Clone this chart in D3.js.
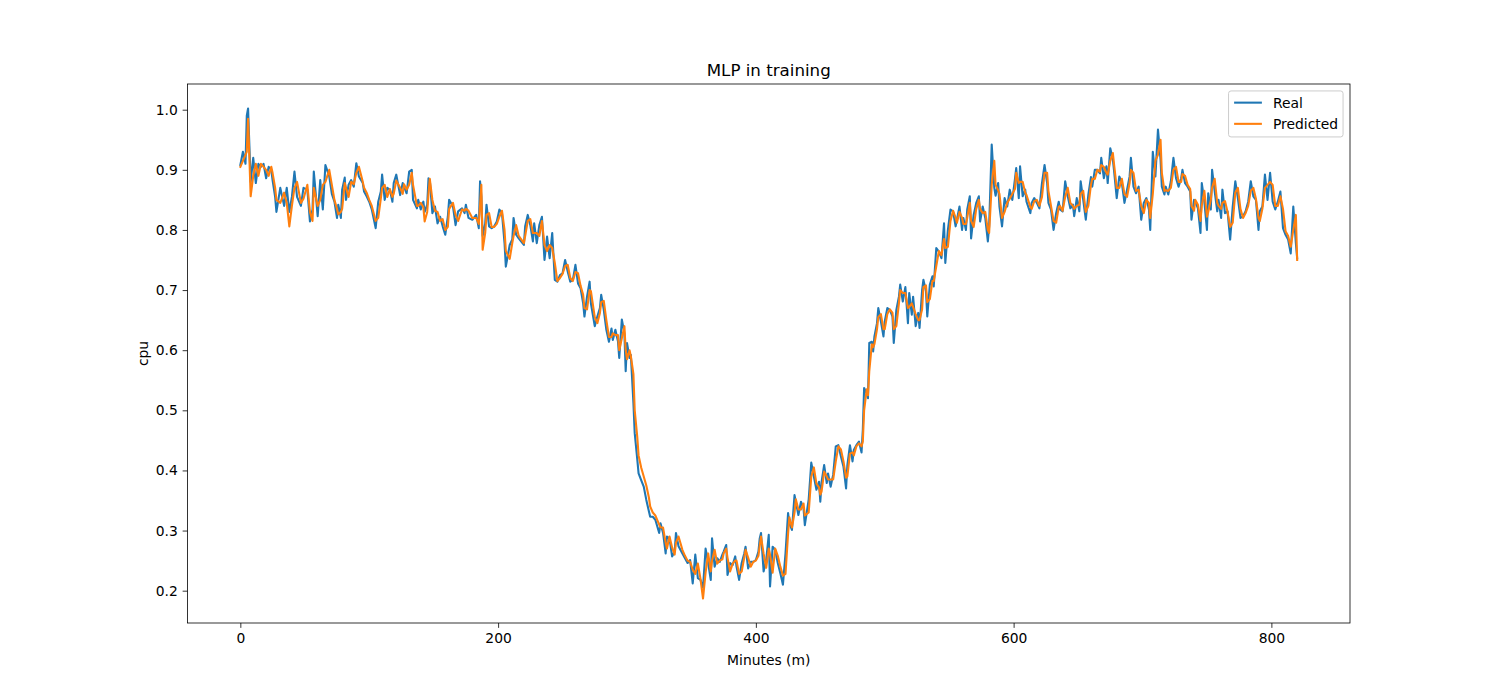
<!DOCTYPE html>
<html>
<head>
<meta charset="utf-8">
<script src="https://cdn.jsdelivr.net/npm/d3@7"></script>
<style>
  body { margin: 0; background: #fff; }
  svg { font-family: "DejaVu Sans", sans-serif; }
</style>
</head>
<body>
<div id="chart"></div>
<script>
// chart text
var chartTitle = "MLP in training";
var xLabel = "Minutes (m)";
var yLabel = "cpu";
var seriesNames = ["Real", "Predicted"];
var xTicks = [0, 200, 400, 600, 800];
var yTicks = [0.2, 0.3, 0.4, 0.5, 0.6, 0.7, 0.8, 0.9, 1.0];

// [minute, cpu]
var realPoints = [
  [0,0.908],[2,0.93],[4,0.91],[5,0.99],[6,1.002],[8,0.88],[10,0.92],[12,0.878],[14,0.91],[16,0.905],
  [18,0.91],[20,0.886],[22,0.905],[24,0.9],[25,0.883],[27,0.855],[28,0.83],[31,0.87],[34,0.84],[36,0.87],
  [38,0.83],[40,0.855],[42,0.897],[44,0.855],[47,0.84],[49,0.87],[52,0.867],[54,0.814],[56,0.834],[57,0.897],
  [60,0.823],[62,0.883],[64,0.834],[66,0.908],[69,0.889],[71,0.86],[73,0.847],[75,0.82],[76,0.842],[78,0.82],
  [79,0.867],[81,0.887],[82,0.85],[84,0.875],[86,0.883],[88,0.872],[90,0.911],[92,0.889],[95,0.878],[96,0.864],
  [98,0.856],[100,0.847],[102,0.834],[105,0.803],[107,0.847],[109,0.864],[110,0.892],[112,0.85],[114,0.87],[116,0.867],
  [118,0.847],[119,0.878],[121,0.892],[124,0.858],[126,0.878],[127,0.872],[129,0.861],[131,0.897],[133,0.9],[134,0.85],
  [137,0.836],[138,0.85],[140,0.834],[142,0.847],[143,0.83],[145,0.842],[146,0.886],[147,0.883],[149,0.828],[151,0.839],
  [153,0.811],[155,0.822],[157,0.806],[159,0.792],[161,0.822],[162,0.85],[165,0.839],[167,0.808],[169,0.831],[172,0.836],
  [174,0.828],[175,0.842],[177,0.82],[180,0.817],[183,0.825],[185,0.803],[186,0.881],[187,0.856],[188,0.79],[190,0.811],
  [191,0.842],[193,0.806],[195,0.803],[197,0.806],[199,0.814],[201,0.834],[203,0.828],[205,0.778],[206,0.739],[209,0.775],
  [211,0.784],[212,0.82],[214,0.792],[216,0.786],[220,0.775],[221,0.806],[223,0.825],[225,0.808],[227,0.781],[228,0.811],
  [230,0.778],[232,0.808],[234,0.822],[236,0.75],[238,0.789],[240,0.753],[242,0.795],[244,0.717],[246,0.714],[248,0.725],
  [250,0.728],[252,0.75],[254,0.731],[256,0.714],[258,0.717],[260,0.742],[262,0.711],[264,0.703],[266,0.678],[267,0.656],
  [269,0.689],[271,0.714],[272,0.678],[275,0.64],[277,0.656],[279,0.67],[280,0.692],[282,0.667],[284,0.634],[286,0.614],
  [288,0.636],[289,0.617],[291,0.634],[293,0.615],[294,0.587],[296,0.651],[298,0.628],[299,0.565],[300,0.612],[302,0.587],
  [303,0.592],[305,0.512],[306,0.462],[308,0.418],[309,0.395],[311,0.384],[313,0.373],[315,0.351],[317,0.332],[318,0.323],
  [320,0.323],[322,0.318],[325,0.296],[326,0.312],[328,0.296],[330,0.262],[331,0.29],[333,0.287],[335,0.257],[337,0.265],
  [338,0.296],[340,0.274],[343,0.262],[345,0.254],[347,0.246],[349,0.251],[351,0.212],[353,0.26],[355,0.221],[357,0.218],
  [359,0.205],[361,0.27],[363,0.246],[365,0.218],[366,0.287],[368,0.24],[370,0.254],[372,0.248],[374,0.26],[375,0.265],
  [377,0.276],[378,0.226],[380,0.246],[382,0.243],[384,0.257],[385,0.24],[387,0.218],[389,0.246],[391,0.262],[392,0.273],
  [394,0.237],[396,0.248],[398,0.248],[400,0.251],[402,0.265],[403,0.287],[404,0.296],[406,0.232],[408,0.251],[410,0.293],
  [411,0.207],[413,0.273],[415,0.268],[417,0.246],[419,0.229],[421,0.21],[423,0.262],[425,0.329],[426,0.312],[428,0.301],
  [430,0.359],[431,0.348],[433,0.326],[435,0.348],[437,0.337],[438,0.309],[441,0.352],[443,0.413],[445,0.39],[447,0.368],
  [449,0.381],[450,0.348],[451,0.381],[453,0.409],[455,0.379],[456,0.395],[458,0.373],[460,0.393],[462,0.44],[464,0.442],
  [466,0.423],[468,0.406],[470,0.37],[471,0.409],[473,0.442],[475,0.415],[476,0.434],[478,0.442],[480,0.448],[482,0.43],
  [483,0.468],[484,0.537],[486,0.528],[487,0.52],[488,0.612],[490,0.614],[491,0.598],[492,0.623],[494,0.645],[495,0.67],
  [497,0.648],[499,0.623],[500,0.648],[502,0.67],[504,0.667],[506,0.656],[507,0.612],[509,0.667],[511,0.689],[512,0.709],
  [514,0.681],[516,0.705],[518,0.645],[519,0.695],[521,0.659],[522,0.689],[524,0.64],[526,0.662],[527,0.637],[529,0.7],
  [530,0.717],[532,0.698],[533,0.656],[535,0.709],[537,0.723],[538,0.706],[540,0.77],[542,0.764],[544,0.753],[546,0.811],
  [547,0.745],[549,0.8],[551,0.834],[553,0.831],[555,0.806],[556,0.817],[558,0.839],[560,0.8],[561,0.82],[563,0.8],
  [564,0.834],[566,0.856],[567,0.786],[569,0.825],[571,0.845],[573,0.856],[574,0.814],[576,0.839],[578,0.82],[580,0.781],
  [581,0.806],[583,0.942],[585,0.87],[586,0.857],[588,0.878],[589,0.839],[591,0.806],[593,0.853],[595,0.839],[597,0.867],
  [599,0.85],[601,0.884],[602,0.903],[604,0.853],[605,0.906],[607,0.856],[609,0.867],[610,0.847],[613,0.828],[614,0.845],
  [616,0.853],[618,0.845],[620,0.836],[622,0.878],[624,0.908],[626,0.878],[627,0.845],[629,0.834],[631,0.8],[633,0.828],
  [635,0.847],[636,0.834],[638,0.831],[640,0.881],[642,0.856],[644,0.836],[646,0.842],[647,0.823],[649,0.853],[651,0.831],
  [652,0.881],[654,0.85],[656,0.817],[658,0.859],[660,0.888],[661,0.872],[663,0.9],[665,0.9],[667,0.894],[668,0.92],
  [670,0.886],[672,0.906],[673,0.878],[675,0.936],[677,0.917],[678,0.897],[680,0.853],[682,0.889],[684,0.878],[686,0.845],
  [688,0.867],[690,0.889],[691,0.92],[693,0.872],[695,0.861],[697,0.872],[699,0.817],[701,0.845],[703,0.853],[705,0.834],
  [706,0.8],[708,0.93],[710,0.889],[712,0.967],[714,0.917],[715,0.872],[717,0.859],[718,0.872],[720,0.859],[722,0.881],
  [724,0.92],[726,0.886],[728,0.872],[730,0.886],[731,0.9],[733,0.878],[735,0.872],[737,0.864],[738,0.817],[740,0.85],
  [741,0.847],[743,0.836],[745,0.795],[746,0.878],[748,0.847],[750,0.8],[751,0.861],[753,0.834],[754,0.9],[756,0.864],
  [758,0.831],[759,0.85],[761,0.82],[762,0.867],[764,0.828],[766,0.831],[768,0.784],[770,0.839],[772,0.881],[774,0.853],
  [776,0.82],[778,0.823],[780,0.831],[782,0.847],[784,0.881],[786,0.856],[788,0.85],[790,0.8],[791,0.831],[793,0.839],
  [795,0.892],[797,0.85],[799,0.895],[801,0.847],[803,0.834],[805,0.847],[807,0.864],[809,0.803],[811,0.792],[813,0.784],
  [815,0.761],[817,0.839],[819,0.778],[820,0.753]
];

var predictedPoints = [
  [0,0.905],[2,0.915],[4,0.925],[5,0.93],[6,0.985],[8,0.856],[10,0.89],[12,0.91],[14,0.89],[16,0.91],
  [18,0.905],[20,0.9],[22,0.89],[24,0.905],[25,0.895],[27,0.87],[28,0.85],[31,0.845],[34,0.862],[36,0.845],
  [38,0.806],[40,0.84],[42,0.87],[44,0.88],[47,0.845],[49,0.852],[52,0.875],[54,0.83],[56,0.815],[57,0.87],
  [60,0.84],[62,0.85],[64,0.875],[66,0.88],[69,0.9],[71,0.875],[73,0.85],[75,0.835],[76,0.826],[78,0.83],
  [79,0.835],[81,0.878],[82,0.87],[84,0.855],[86,0.88],[88,0.876],[90,0.895],[92,0.905],[95,0.88],[96,0.87],
  [98,0.862],[100,0.85],[102,0.84],[105,0.815],[107,0.82],[109,0.852],[110,0.87],[112,0.875],[114,0.855],[116,0.868],
  [118,0.855],[119,0.86],[121,0.882],[124,0.87],[126,0.86],[127,0.876],[129,0.867],[131,0.875],[133,0.895],[134,0.875],
  [137,0.84],[138,0.84],[140,0.845],[142,0.838],[143,0.814],[145,0.83],[146,0.86],[147,0.885],[149,0.85],[151,0.832],
  [153,0.83],[155,0.815],[157,0.818],[159,0.8],[161,0.805],[162,0.835],[165,0.845],[167,0.825],[169,0.815],[172,0.834],
  [174,0.832],[175,0.835],[177,0.832],[180,0.82],[183,0.82],[185,0.81],[186,0.84],[187,0.875],[188,0.767],[190,0.795],
  [191,0.825],[193,0.828],[195,0.805],[197,0.805],[199,0.81],[201,0.822],[203,0.832],[205,0.8],[206,0.765],[209,0.752],
  [211,0.778],[212,0.79],[214,0.808],[216,0.79],[220,0.778],[221,0.79],[223,0.815],[225,0.818],[227,0.795],[228,0.795],
  [230,0.795],[232,0.79],[234,0.815],[236,0.775],[238,0.765],[240,0.775],[242,0.77],[244,0.745],[246,0.715],[248,0.72],
  [250,0.727],[252,0.74],[254,0.742],[256,0.72],[258,0.715],[260,0.73],[262,0.728],[264,0.707],[266,0.692],[267,0.67],
  [269,0.668],[271,0.7],[272,0.698],[275,0.655],[277,0.645],[279,0.662],[280,0.68],[282,0.682],[284,0.65],[286,0.622],
  [288,0.622],[289,0.628],[291,0.625],[293,0.625],[294,0.6],[296,0.62],[298,0.64],[299,0.6],[300,0.585],[302,0.6],
  [303,0.59],[305,0.56],[306,0.5],[308,0.455],[309,0.425],[311,0.405],[313,0.39],[315,0.375],[317,0.355],[318,0.34],
  [320,0.33],[322,0.325],[325,0.31],[326,0.305],[328,0.305],[330,0.28],[331,0.27],[333,0.29],[335,0.272],[337,0.26],
  [338,0.28],[340,0.29],[343,0.268],[345,0.258],[347,0.25],[349,0.248],[351,0.235],[353,0.228],[355,0.245],[357,0.22],
  [359,0.187],[361,0.23],[363,0.262],[365,0.232],[366,0.25],[368,0.268],[370,0.245],[372,0.25],[374,0.252],[375,0.262],
  [377,0.27],[378,0.255],[380,0.232],[382,0.245],[384,0.25],[385,0.25],[387,0.228],[389,0.232],[391,0.255],[392,0.268],
  [394,0.255],[396,0.24],[398,0.248],[400,0.25],[402,0.258],[403,0.275],[404,0.29],[406,0.262],[408,0.238],[410,0.27],
  [411,0.26],[413,0.23],[415,0.27],[417,0.258],[419,0.24],[421,0.225],[423,0.228],[425,0.295],[426,0.322],[428,0.305],
  [430,0.33],[431,0.352],[433,0.335],[435,0.335],[437,0.345],[438,0.325],[441,0.33],[443,0.39],[445,0.405],[447,0.378],
  [449,0.372],[450,0.36],[451,0.365],[453,0.398],[455,0.39],[456,0.385],[458,0.385],[460,0.385],[462,0.415],[464,0.44],
  [466,0.435],[468,0.415],[470,0.388],[471,0.39],[473,0.428],[475,0.43],[476,0.425],[478,0.44],[480,0.445],[482,0.44],
  [483,0.448],[484,0.5],[486,0.535],[487,0.525],[488,0.565],[490,0.61],[491,0.605],[492,0.61],[494,0.635],[495,0.655],
  [497,0.66],[499,0.635],[500,0.635],[502,0.66],[504,0.668],[506,0.662],[507,0.635],[509,0.64],[511,0.678],[512,0.7],
  [514,0.695],[516,0.695],[518,0.67],[519,0.672],[521,0.678],[522,0.672],[524,0.66],[526,0.65],[527,0.65],[529,0.668],
  [530,0.705],[532,0.708],[533,0.68],[535,0.685],[537,0.715],[538,0.715],[540,0.74],[542,0.765],[544,0.758],[546,0.785],
  [547,0.77],[549,0.772],[551,0.815],[553,0.832],[555,0.82],[556,0.812],[558,0.83],[560,0.82],[561,0.81],[563,0.81],
  [564,0.82],[566,0.845],[567,0.815],[569,0.805],[571,0.835],[573,0.85],[574,0.835],[576,0.828],[578,0.83],[580,0.8],
  [581,0.795],[583,0.875],[585,0.915],[586,0.875],[588,0.866],[589,0.86],[591,0.82],[593,0.83],[595,0.845],[597,0.852],
  [599,0.86],[601,0.868],[602,0.895],[604,0.878],[605,0.88],[607,0.88],[609,0.862],[610,0.858],[613,0.838],[614,0.835],
  [616,0.848],[618,0.85],[620,0.84],[622,0.855],[624,0.895],[626,0.895],[627,0.865],[629,0.84],[631,0.815],[633,0.812],
  [635,0.838],[636,0.84],[638,0.832],[640,0.855],[642,0.87],[644,0.845],[646,0.84],[647,0.835],[649,0.84],[651,0.842],
  [652,0.86],[654,0.865],[656,0.83],[658,0.84],[660,0.875],[661,0.885],[663,0.885],[665,0.9],[667,0.897],[668,0.908],
  [670,0.905],[672,0.895],[673,0.892],[675,0.915],[677,0.928],[678,0.908],[680,0.87],[682,0.87],[684,0.885],[686,0.86],
  [688,0.855],[690,0.878],[691,0.9],[693,0.895],[695,0.865],[697,0.867],[699,0.84],[701,0.828],[703,0.85],[705,0.845],
  [706,0.82],[708,0.86],[710,0.915],[712,0.925],[714,0.95],[715,0.895],[717,0.865],[718,0.866],[720,0.865],[722,0.87],
  [724,0.9],[726,0.905],[728,0.88],[730,0.88],[731,0.893],[733,0.89],[735,0.875],[737,0.868],[738,0.84],[740,0.832],
  [741,0.85],[743,0.842],[745,0.815],[746,0.84],[748,0.865],[750,0.822],[751,0.83],[753,0.85],[754,0.87],[756,0.885],
  [758,0.845],[759,0.84],[761,0.835],[762,0.845],[764,0.848],[766,0.83],[768,0.805],[770,0.812],[772,0.862],[774,0.87],
  [776,0.835],[778,0.82],[780,0.828],[782,0.84],[784,0.865],[786,0.87],[788,0.852],[790,0.82],[791,0.815],[793,0.835],
  [795,0.87],[797,0.875],[799,0.88],[801,0.875],[803,0.84],[805,0.84],[807,0.856],[809,0.835],[811,0.798],[813,0.79],
  [815,0.772],[817,0.8],[819,0.825],[820,0.75]
];

var colors = ["#1f77b4", "#ff7f0e"];

var svgWidth = 1500;
var svgHeight = 700;

// same fractions matplotlib uses for a single subplot
var margin = {
    top: 84,
    right: 150,
    bottom: 77,
    left: 187.5
};

var width = svgWidth - margin.left - margin.right;
var height = svgHeight - margin.top - margin.bottom;

var pt = 100 / 72;  // one point in px at 100 dpi

var svg = d3.select("#chart")
    .append("svg")
    .attr("width", svgWidth)
    .attr("height", svgHeight);

var chartGroup = svg.append("g")
    .attr("transform", `translate(${margin.left}, ${margin.top})`);

// autoscale with 5% padding, like matplotlib
function paddedExtent(values) {
    var ext = d3.extent(values);
    var pad = (ext[1] - ext[0]) * 0.05;
    return [ext[0] - pad, ext[1] + pad];
}

var allPoints = realPoints.concat(predictedPoints);

var xLinearScale = d3.scaleLinear()
    .domain(paddedExtent(allPoints.map(d => d[0])))
    .range([0, width]);

var yLinearScale = d3.scaleLinear()
    .domain(paddedExtent(allPoints.map(d => d[1])))
    .range([height, 0]);

var bottomAxis = d3.axisBottom(xLinearScale)
    .tickValues(xTicks)
    .tickFormat(d3.format("d"))
    .tickSizeInner(3.5 * pt)
    .tickSizeOuter(0)
    .tickPadding(3.5 * pt);

var leftAxis = d3.axisLeft(yLinearScale)
    .tickValues(yTicks)
    .tickFormat(d3.format(".1f"))
    .tickSizeInner(3.5 * pt)
    .tickSizeOuter(0)
    .tickPadding(3.5 * pt);

var xAxis = chartGroup.append("g")
    .attr("transform", `translate(0, ${height})`)
    .call(bottomAxis);

var yAxis = chartGroup.append("g")
    .call(leftAxis);

[xAxis, yAxis].forEach(function(ax) {
    ax.select(".domain").remove();
    ax.selectAll(".tick line").attr("stroke", "#000").attr("stroke-width", 0.8);
    ax.selectAll(".tick text")
        .attr("fill", "#000")
        .attr("font-size", 10 * pt)
        .attr("font-family", "DejaVu Sans");
});

// lines
var line = d3.line()
    .x(d => xLinearScale(d[0]))
    .y(d => yLinearScale(d[1]));

[realPoints, predictedPoints].forEach(function(points, i) {
    chartGroup.append("path")
        .datum(points)
        .attr("fill", "none")
        .attr("stroke", colors[i])
        .attr("stroke-width", 1.5 * pt)
        .attr("stroke-linejoin", "round")
        .attr("stroke-linecap", "square")
        .attr("d", line);
});

// frame
chartGroup.append("rect")
    .attr("width", width)
    .attr("height", height)
    .attr("fill", "none")
    .attr("stroke", "#000")
    .attr("stroke-width", 0.8);

// title and axis labels
chartGroup.append("text")
    .attr("x", width / 2)
    .attr("y", -6 * pt)
    .attr("text-anchor", "middle")
    .attr("font-size", 12 * pt)
    .text(chartTitle);

chartGroup.append("text")
    .attr("x", width / 2)
    .attr("y", height + 42)
    .attr("text-anchor", "middle")
    .attr("font-size", 10 * pt)
    .text(xLabel);

chartGroup.append("text")
    .attr("transform", "rotate(-90)")
    .attr("x", -height / 2)
    .attr("y", -margin.left + 148)
    .attr("text-anchor", "middle")
    .attr("font-size", 10 * pt)
    .text(yLabel);

// legend, upper right
var fs = 10 * pt;
var legendW = 114.5;
var legendH = 46;
var legend = chartGroup.append("g")
    .attr("transform", `translate(${width - 0.5 * fs - legendW}, ${0.5 * fs})`);

legend.append("rect")
    .attr("width", legendW)
    .attr("height", legendH)
    .attr("rx", 2.5)
    .attr("fill", "#fff")
    .attr("fill-opacity", 0.8)
    .attr("stroke", "#cccccc")
    .attr("stroke-width", 1);

seriesNames.forEach(function(name, i) {
    var cy = 11.7 + i * 21.2;
    legend.append("line")
        .attr("x1", 0.4 * fs)
        .attr("x2", 0.4 * fs + 2 * fs)
        .attr("y1", cy)
        .attr("y2", cy)
        .attr("stroke", colors[i])
        .attr("stroke-width", 1.5 * pt);
    legend.append("text")
        .attr("x", 0.4 * fs + 2.8 * fs)
        .attr("y", cy + 5)
        .attr("font-size", fs)
        .text(name);
});
</script>
</body>
</html>
